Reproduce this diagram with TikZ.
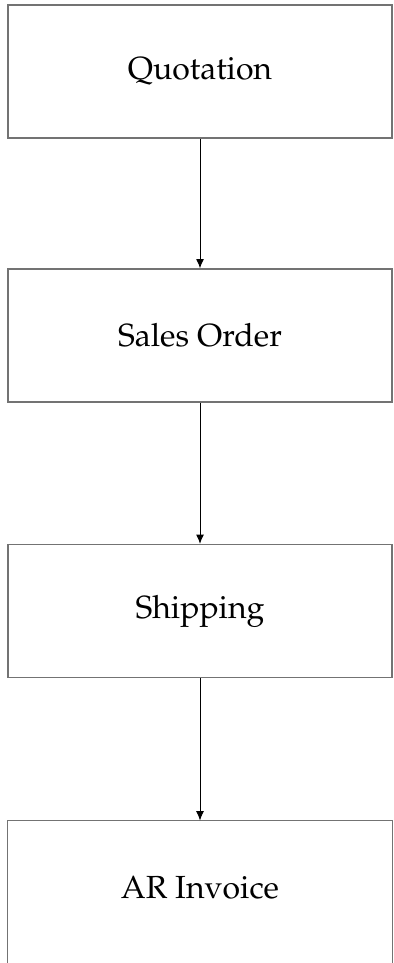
\documentclass[tikz,border=0pt]{standalone}
\usepackage[T1]{fontenc}
\usepackage{mathpazo}
\usetikzlibrary{arrows.meta}
\tikzset{every picture/.style={line width=0.75pt}}
\tikzset{
  stagebox/.style={draw=black!55, line width=1pt, minimum width=288pt, minimum height=99.75pt, inner sep=0pt, font=\fontsize{24}{28}\selectfont},
  stageopen/.style={draw=none, minimum width=288pt, minimum height=99.75pt, inner sep=0pt, font=\fontsize{24}{28}\selectfont},
  flow/.style={draw=black, line width=0.75pt, -{Latex[length=7pt,width=6pt]}}
}
\begin{document}
\begin{tikzpicture}[x=0.75pt,y=0.75pt,yscale=-1,xscale=1]
\useasboundingbox (0,0) rectangle (393,963);

% Boxes
\node[stagebox] (quo) at (200,71.5) {Quotation};
\node[stagebox] (so) at (200,335.5) {Sales Order};
\node[stagebox] (ship) at (200,611) {Shipping};
\node[stageopen] (inv) at (200,887.5) {AR Invoice};
% open box, bottom edge below the page
\draw [draw=black!55, line width=1pt] ([yshift=30pt]inv.south west) |- (inv.north) -| ([yshift=30pt]inv.south east);

% Arrows
\draw [flow] (quo) -- (so);
\draw [flow] (so) -- (ship);
\draw [flow] (ship) -- (inv);

\end{tikzpicture}
\end{document}
